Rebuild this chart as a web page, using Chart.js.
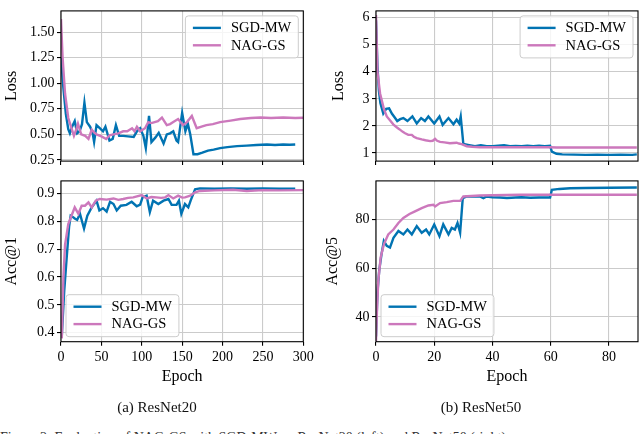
<!DOCTYPE html>
<html><head><meta charset="utf-8">
<script src="https://cdn.jsdelivr.net/npm/chart.js@4.4.1/dist/chart.umd.min.js"></script>
<style>
html,body{margin:0;padding:0;background:#fff;width:640px;height:434px;overflow:hidden;position:relative;font-family:"Liberation Serif",serif;}
canvas{position:absolute;}
.cap{position:absolute;font-size:15px;color:#111;white-space:nowrap;transform:translateX(-50%);line-height:1;}
.fig{position:absolute;left:0;top:431px;font-size:14px;color:#333;white-space:nowrap;line-height:1;}
</style></head><body>
<canvas id="c1" style="left:0px;top:0px" width="320" height="172"></canvas>
<canvas id="c2" style="left:0px;top:170px" width="320" height="220"></canvas>
<canvas id="c3" style="left:320px;top:0px" width="320" height="172"></canvas>
<canvas id="c4" style="left:320px;top:170px" width="320" height="220"></canvas>
<div class="cap" style="left:157px;top:400px">(a) ResNet20</div>
<div class="cap" style="left:481px;top:400px">(b) ResNet50</div>
<div class="fig">Figure 2: Evaluation of NAG-GS with SGD-MW on ResNet20 (left) and ResNet50 (right).</div>
<script>
// ---------- series names / colours ----------
const seriesNames = ['SGD-MW', 'NAG-GS'];
const seriesColors = ['#0173B2', '#CC78BC'];

// ---------- ResNet20 : loss ----------
const r20LossSgdEpoch = [0,3,6,9,11,14,17,20,23,26,29,32,36,39,41,44,48,52,55,60,64,68,72,77,83,90,94,98,102,105,109,112,117,121,127,131,135,139,143,145,150,154,157,160,164,169,175,182,189,197,206,218,230,242,255,265,275,283,290];
const r20LossSgd = [1.25,0.95,0.70,0.55,0.51,0.58,0.63,0.51,0.53,0.60,0.81,0.62,0.575,0.52,0.425,0.59,0.56,0.53,0.575,0.44,0.455,0.59,0.485,0.485,0.48,0.475,0.53,0.56,0.485,0.365,0.68,0.425,0.47,0.515,0.41,0.50,0.51,0.53,0.44,0.425,0.71,0.53,0.605,0.50,0.305,0.305,0.32,0.34,0.35,0.365,0.375,0.385,0.39,0.395,0.40,0.395,0.40,0.398,0.40];
const r20LossNagEpoch = [0,2,5,9,13,16,19,21,25,30,34,38,41,44,50,56,60,65,71,77,82,88,91,94,98,104,108,112,116,120,125,131,135,139,145,151,156,162,168,174,180,188,197,210,222,235,247,260,275,290,300];
const r20LossNag = [1.63,1.25,0.90,0.66,0.56,0.485,0.55,0.605,0.50,0.485,0.455,0.545,0.52,0.50,0.48,0.455,0.49,0.50,0.51,0.53,0.53,0.56,0.53,0.575,0.53,0.56,0.62,0.61,0.62,0.63,0.665,0.59,0.60,0.62,0.65,0.59,0.62,0.68,0.56,0.575,0.59,0.60,0.62,0.635,0.65,0.66,0.665,0.66,0.665,0.66,0.662];

// ---------- ResNet20 : Acc@1 ----------
const r20AccSgdEpoch = [1,4,7,10,12,15,17,20,23.5,26,28.5,32.6,38,44,47.5,52,56.5,60.7,65,69,74,81,87.5,93.7,98,101,106,110,114,120.5,127,133,137,143,146,149,153.5,157.6,160.5,166,172,190,210,230,250,270,290];
const r20AccSgd = [0.39,0.55,0.668,0.78,0.82,0.815,0.81,0.805,0.827,0.80,0.774,0.82,0.85,0.874,0.839,0.847,0.835,0.87,0.862,0.839,0.856,0.859,0.87,0.854,0.86,0.886,0.892,0.833,0.874,0.862,0.874,0.88,0.859,0.859,0.874,0.827,0.862,0.85,0.874,0.915,0.918,0.917,0.918,0.917,0.918,0.917,0.917];
const r20AccNagEpoch = [1,3,5,9,13,17,21.5,25.6,29.7,34,38,43,48,56.5,65,71,77,83,89.5,100,106,112,118,124,129,133,139,145,150,153.5,160,166,172,190,213,230,250,270,300];
const r20AccNag = [0.38,0.60,0.715,0.79,0.82,0.85,0.827,0.856,0.856,0.868,0.85,0.874,0.88,0.878,0.882,0.877,0.88,0.884,0.886,0.894,0.882,0.887,0.886,0.884,0.886,0.894,0.882,0.892,0.885,0.886,0.892,0.904,0.909,0.911,0.913,0.909,0.912,0.911,0.912];

// ---------- ResNet50 : loss ----------
const r50LossSgdEpoch = [0,0.5,1,1.5,2.5,3.5,4.5,5.5,6.5,7.3,8.3,9.4,10.8,12.5,14,15.5,16.8,18,20,21.8,22.9,24.9,26.6,27.7,28.6,29.1,30,32,34,36,38,40,42,44,46,48,50,52,54,56,58,59.8,60.4,62,64,68,72,76,80,84,88,89.6];
const r50LossSgd = [5.9,4.2,3.3,2.85,2.46,2.63,2.65,2.45,2.30,2.18,2.25,2.29,2.18,2.35,2.09,2.29,2.18,2.35,2.09,2.35,2.04,2.29,2.06,2.23,2.09,2.35,1.33,1.29,1.25,1.29,1.25,1.25,1.27,1.29,1.25,1.26,1.25,1.27,1.25,1.27,1.25,1.27,1.05,0.97,0.95,0.94,0.93,0.94,0.93,0.94,0.93,0.95];
const r50LossNagEpoch = [0,0.5,1.4,2.7,3.7,5,6,7.1,8,9.2,10,11.1,12.3,13,14,15.7,17,18.6,19.5,20.3,21,22,23.5,25.4,26.5,27.7,28.5,29.4,31.2,33,35.7,40,50,59.8,62,70,80,89.6];
const r50LossNag = [6.1,4.0,3.2,2.63,2.35,2.18,2.05,1.95,1.88,1.78,1.73,1.67,1.67,1.60,1.55,1.50,1.47,1.44,1.45,1.52,1.45,1.41,1.39,1.36,1.37,1.38,1.35,1.33,1.25,1.23,1.21,1.21,1.21,1.21,1.20,1.20,1.20,1.20];

// ---------- ResNet50 : Acc@5 ----------
const r50AccSgdEpoch = [0,0.5,1.1,1.9,2.7,3.7,4.8,6,7.7,9.4,10.8,12.3,14,15.7,17.2,18.3,20,21.8,23.1,24.9,26,27.1,28,28.9,29.8,31.2,34,35.7,36.9,38,40,42.6,45,48,50,53,56,59.8,60.4,63,66.7,72,80,89.6];
const r50AccSgd = [32,50,59,65.8,71.2,69.2,68.5,72.5,75.3,73.9,75.9,73.9,77.3,74.6,75.9,73.9,78,73.2,78,73.9,76.6,75.9,78.6,74.6,88.8,89.5,89.5,89.5,88.8,89.5,89.2,89.1,88.9,89.1,89.2,89.0,89.1,89.1,92.2,92.6,92.9,93.0,93.1,93.2];
const r50AccNagEpoch = [0,0.4,0.8,1.6,2.7,4.2,6,7.7,9.4,11.5,13.4,15.7,18,19.7,20.3,22,24.3,26.6,28.9,30,35.7,40,49.5,60,70,80,89.6];
const r50AccNag = [30,45,55,64.4,69.8,73.9,75.9,78.6,80.7,82.3,83.4,84.7,85.8,86.1,85.4,86.8,87.2,87.7,87.7,89.5,89.9,90.0,90.2,90.2,90.2,90.2,90.2];

// ---------- tick values / labels ----------
const r20EpochTicks = [0,50,100,150,200,250,300];
const r50EpochTicks = [0,20,40,60,80];
const r20LossTicks = [0.25,0.50,0.75,1.00,1.25,1.50];
const r20LossTickLabels = ['0.25','0.50','0.75','1.00','1.25','1.50'];
const r20AccTicks = [0.4,0.5,0.6,0.7,0.8,0.9];
const r20AccTickLabels = ['0.4','0.5','0.6','0.7','0.8','0.9'];
const r50LossTicks = [1,2,3,4,5,6];
const r50LossTickLabels = ['1','2','3','4','5','6'];
const r50AccTicks = [40,60,80];
const r50AccTickLabels = ['40','60','80'];

// ---------- plugins ----------
const frame = {
  id: 'frame',
  afterDatasetsDraw(chart) {
    const {ctx, chartArea: a} = chart;
    ctx.save();
    ctx.strokeStyle = '#000';
    ctx.lineWidth = 1.1;
    ctx.strokeRect(a.left, a.top, a.right - a.left, a.bottom - a.top);
    ctx.restore();
  }
};
const insideLegend = {
  id: 'insideLegend',
  afterDraw(chart, args, opts) {
    if (!opts || !opts.where) return;
    const {ctx, chartArea: a} = chart;
    const ds = chart.data.datasets;
    ctx.save();
    ctx.font = opts.size + 'px "Liberation Serif", serif';
    const tw = Math.max(...ds.map(d => ctx.measureText(d.label).width));
    const padL = 7.5, handle = 28, gap = 10, padR = 7, rowH = 17.4;
    const w = padL + handle + gap + tw + padR;
    const h = 42;
    let x, y;
    if (opts.where === 'ur') { x = a.right - 5 - w; y = a.top + 5; }
    else { x = a.left + 5; y = a.bottom - 5 - h; }
    ctx.beginPath();
    ctx.roundRect(x, y, w, h, 3);
    ctx.fillStyle = 'rgba(255,255,255,0.8)';
    ctx.fill();
    ctx.strokeStyle = '#cccccc';
    ctx.lineWidth = 1;
    ctx.stroke();
    ds.forEach((d, i) => {
      const cy = y + 12 + i * rowH;
      ctx.beginPath();
      ctx.moveTo(x + padL, cy);
      ctx.lineTo(x + padL + handle, cy);
      ctx.strokeStyle = d.borderColor;
      ctx.lineWidth = 2.4;
      ctx.stroke();
      ctx.fillStyle = '#000';
      ctx.textBaseline = 'middle';
      ctx.textAlign = 'left';
      ctx.fillText(d.label, x + padL + handle + gap, cy + 0.5);
    });
    ctx.restore();
  }
};

Chart.defaults.font.family = '"Liberation Serif", serif';
Chart.defaults.color = '#000';

function pts(xs, ys) { return xs.map((e, i) => ({x: e, y: ys[i]})); }

function panel(id, p) {
  const datasets = p.series.map((s, i) => ({
    label: seriesNames[i],
    data: pts(s[0], s[1]),
    borderColor: seriesColors[i],
    backgroundColor: seriesColors[i],
    borderWidth: 2.4,
    pointRadius: 0,
    tension: 0,
    order: i === 0 ? 1 : 0
  }));
  return new Chart(document.getElementById(id), {
    type: 'line',
    data: {datasets},
    plugins: [frame, insideLegend],
    options: {
      responsive: false,
      animation: false,
      events: [],
      layout: {autoPadding: false, padding: p.padding},
      plugins: {legend: {display: false}, tooltip: {enabled: false},
                insideLegend: {where: p.legend, size: 14.5}},
      scales: {
        x: {
          type: 'linear', min: p.xMin, max: p.xMax,
          afterBuildTicks: ax => { ax.ticks = p.xTicks.map(v => ({value: v})); },
          afterFit: ax => { ax.height = p.xHeight; },
          ticks: {display: p.xLabels, padding: 3.5, font: {size: 14}, color: '#000',
                  callback: v => String(v), maxRotation: 0, autoSkip: false},
          grid: {color: '#cbcbcb', lineWidth: 1.1, tickLength: 4, tickColor: '#000', drawTicks: true},
          border: {display: false},
          title: {display: p.xLabels, text: 'Epoch', font: {size: 16}, color: '#000', padding: {top: 0, bottom: 3.4}}
        },
        y: {
          type: 'linear', min: p.yMin, max: p.yMax,
          afterBuildTicks: ax => { ax.ticks = p.yTicks.map(v => ({value: v})); },
          afterFit: ax => { ax.width = p.yWidth; },
          ticks: {padding: 2.5, font: {size: 14}, color: '#000',
                  callback: (v, i) => p.yTickLabels[i], autoSkip: false},
          grid: {color: '#cbcbcb', lineWidth: 1.1, tickLength: 4, tickColor: '#000', drawTicks: true},
          border: {display: false},
          title: {display: true, text: p.yTitle, font: {size: 16}, color: '#000', padding: {top: p.yTitlePad, bottom: 0}}
        }
      }
    }
  });
}

panel('c1', {
  xMin: 0, xMax: 300, xTicks: r20EpochTicks, xLabels: false, xHeight: 8.5,
  yMin: 0.238, yMax: 1.709, yTicks: r20LossTicks, yTickLabels: r20LossTickLabels,
  yTitle: 'Loss', yTitlePad: 2, yWidth: 61,
  padding: {left: 0, top: 0, right: 16.7, bottom: 0}, legend: 'ur',
  series: [[r20LossSgdEpoch, r20LossSgd], [r20LossNagEpoch, r20LossNag]]
});
panel('c2', {
  xMin: 0, xMax: 300, xTicks: r20EpochTicks, xLabels: true, xHeight: 48.3,
  yMin: 0.368, yMax: 0.945, yTicks: r20AccTicks, yTickLabels: r20AccTickLabels,
  yTitle: 'Acc@1', yTitlePad: 2, yWidth: 61,
  padding: {left: 0, top: 8.3, right: 16.7, bottom: 0}, legend: 'll',
  series: [[r20AccSgdEpoch, r20AccSgd], [r20AccNagEpoch, r20AccNag]]
});
panel('c3', {
  xMin: 0, xMax: 90, xTicks: r50EpochTicks, xLabels: false, xHeight: 8.5,
  yMin: 0.70, yMax: 6.25, yTicks: r50LossTicks, yTickLabels: r50LossTickLabels,
  yTitle: 'Loss', yTitlePad: 9, yWidth: 56,
  padding: {left: 0, top: 0, right: 2, bottom: 0}, legend: 'ur',
  series: [[r50LossSgdEpoch, r50LossSgd], [r50LossNagEpoch, r50LossNag]]
});
panel('c4', {
  xMin: 0, xMax: 90, xTicks: r50EpochTicks, xLabels: true, xHeight: 48.3,
  yMin: 29.8, yMax: 95.9, yTicks: r50AccTicks, yTickLabels: r50AccTickLabels,
  yTitle: 'Acc@5', yTitlePad: 3, yWidth: 56,
  padding: {left: 0, top: 9.3, right: 2, bottom: 0}, legend: 'll',
  series: [[r50AccSgdEpoch, r50AccSgd], [r50AccNagEpoch, r50AccNag]]
});
</script>
</body></html>
